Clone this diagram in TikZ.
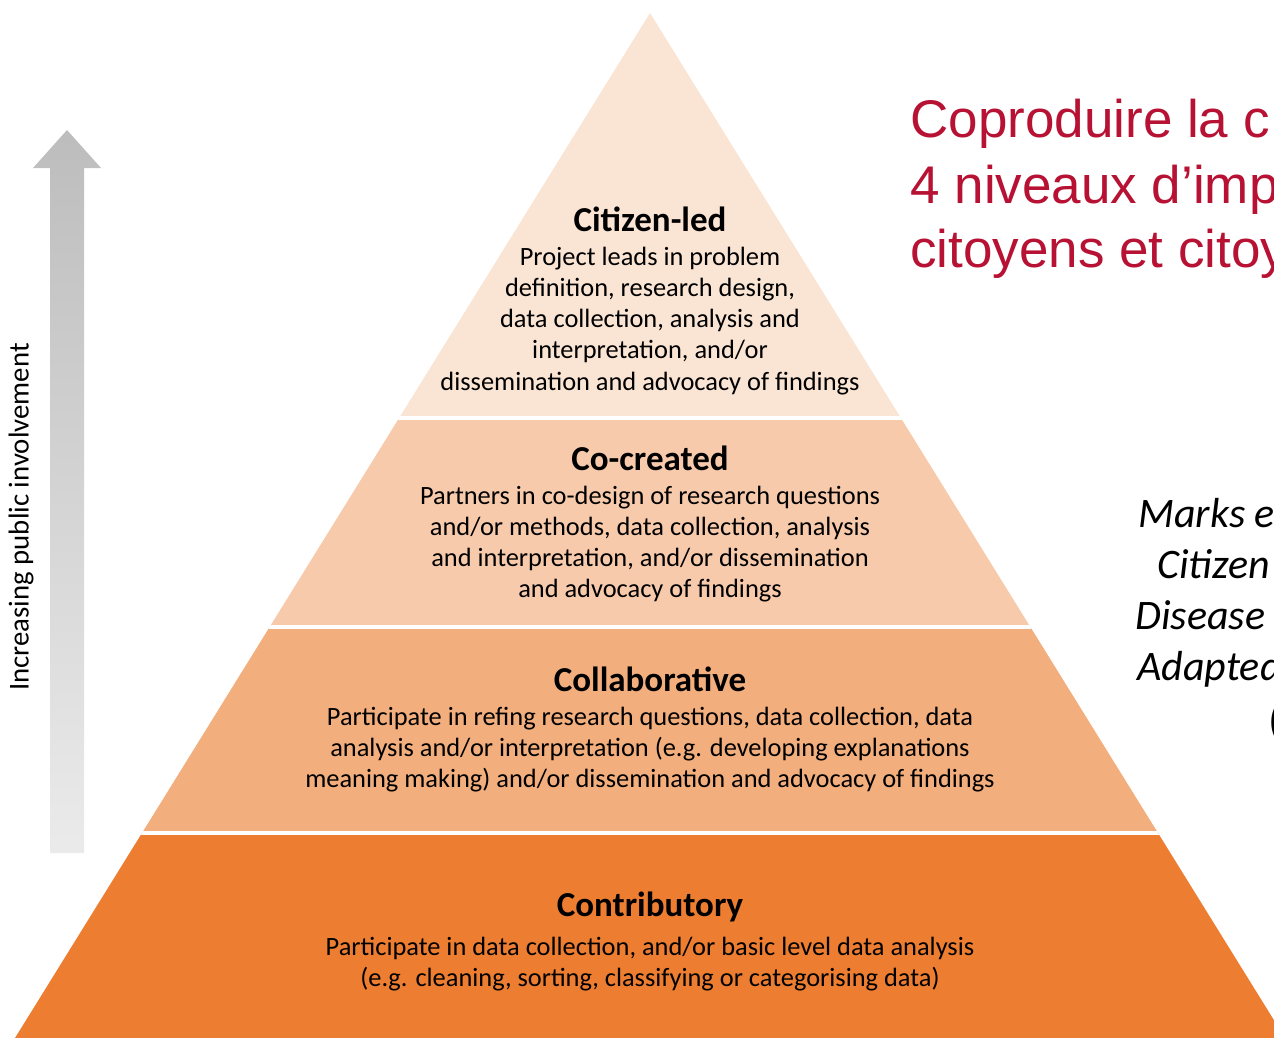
\documentclass[tikz,border=0pt]{standalone}
\usepackage{fontspec}
\setmainfont{Carlito}
\newfontfamily\titlefont{Liberation Sans}
\usetikzlibrary{positioning}
\definecolor{tierA}{RGB}{250,228,212}
\definecolor{tierB}{RGB}{247,202,172}
\definecolor{tierC}{RGB}{243,174,125}
\definecolor{tierD}{RGB}{237,125,49}
\definecolor{titlered}{RGB}{183,18,52}
\tikzset{tierhead/.style={font=\fontsize{17.5}{21}\selectfont\bfseries,inner sep=0pt,anchor=base},
  tierbody/.style={font=\fontsize{13.2}{15.6}\selectfont,align=center,inner sep=0pt,below=7.5pt of #1},
  titleline/.style={font=\titlefont\fontsize{26.5}{30}\selectfont,text=titlered,inner sep=0pt,anchor=base west},
  refline/.style={font=\fontsize{21}{25}\selectfont\itshape,inner sep=0pt,anchor=base west}}

\begin{document}
\begin{tikzpicture}[x=0.5pt,y=-0.5pt]
  \useasboundingbox (0,0) rectangle (1274,1038);
  \clip (0,0) rectangle (1274,1038);
  \begin{scope}
    \clip (650,13) -- (15,1038) -- (1285,1038) -- cycle;
    \foreach \c/\ya/\yb in {tierA/0/418,tierB/418/627,tierC/627/833,tierD/833/1040}
      \fill[\c] (0,\ya) rectangle (1300,\yb);
    \foreach \y in {418,627,833}
      \draw[white,line width=2pt] (0,\y) -- (1300,\y);
  \end{scope}
  \shade[top color=black!26,bottom color=black!8]
    (50,853) -- (50,168) -- (33,168) -- (67,130) -- (101,168) -- (84,168) -- (84,853) -- cycle;
  \node[rotate=90,inner sep=0pt,font=\fontsize{14.4}{17}\selectfont] (involve) at (21,517) {Increasing public involvement};

  \node[tierhead] (cit) at (650,231) {Citizen-led};
  \node[tierbody=cit] (citTxt) {Project leads in problem\\definition, research design,\\data collection, analysis and\\interpretation, and/or\\dissemination and advocacy of findings};
  \node[tierhead] (cocr) at (650,470) {Co-created};
  \node[tierbody=cocr] (cocrTxt) {Partners in co-design of research questions\\and/or methods, data collection, analysis\\and interpretation, and/or dissemination\\and advocacy of findings};
  \node[tierhead] (coll) at (650,691) {Collaborative};
  \node[tierbody=coll] (collTxt) {Participate in refing research questions, data collection, data\\analysis and/or interpretation (e.g. developing explanations\\meaning making) and/or dissemination and advocacy of findings};
  \node[tierhead] (contr) at (650,916) {Contributory};
  \node[tierbody=contr] (contrTxt) {Participate in data collection, and/or basic level data analysis\\(e.g. cleaning, sorting, classifying or categorising data)};

  \node[titleline] (titleA) at (910,138) {Coproduire la c};
  \node[titleline] (titleB) at (910,203) {4 niveaux d’imp};
  \node[titleline] (titleC) at (910,267) {citoyens et citoy};

  \foreach \t/\x/\y [count=\i] in {Marks e/1138/527,Citizen/1157/578,Disease/1135/629,Adapted/1137/680}
    \node[refline] (ref\i) at (\x,\y) {\t};
  \node[refline] (ref5) at (1268,731) {(};
\end{tikzpicture}
\end{document}
